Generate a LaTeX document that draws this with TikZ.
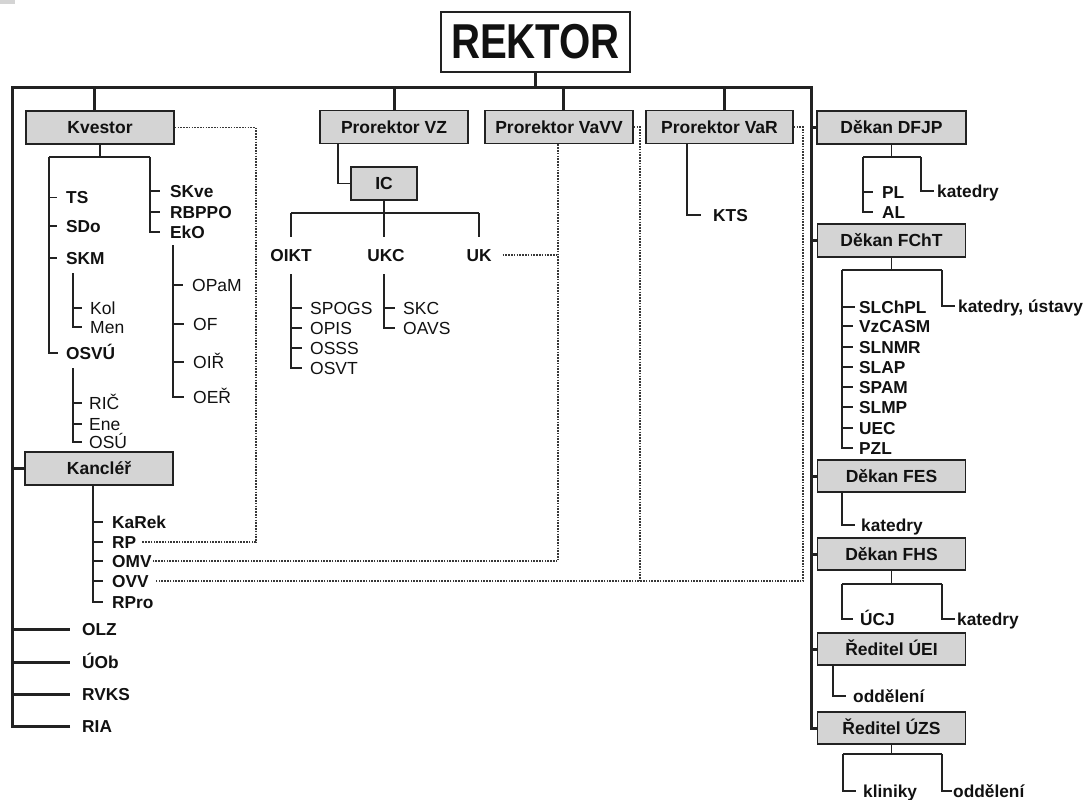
\documentclass[tikz,border=0pt]{standalone}
\usepackage{fontspec}
\setmainfont{Liberation Sans}
\usepackage{graphicx}
\definecolor{boxfill}{HTML}{D4D4D4}
\definecolor{linec}{HTML}{222222}
\definecolor{dotc}{HTML}{383838}
\definecolor{txt}{HTML}{111111}
\begin{document}
\begin{tikzpicture}[x=1pt,y=-1pt,
  every node/.style={text=txt},
  orgbox/.style={draw=linec, line width=1.7, fill=boxfill, minimum width=148, minimum height=33, inner sep=0,
    text height=12.5, text depth=0, font=\fontsize{17.5}{17.5}\selectfont\bfseries},
  lb/.style={anchor=west, inner sep=0, text height=12.4, text depth=0, font=\fontsize{17.3}{17.3}\selectfont\bfseries},
  lbc/.style={lb, anchor=center},
  lr/.style={anchor=west, inner sep=0, text height=12.5, text depth=0, font=\fontsize{17.5}{17.5}\selectfont},
  mainln/.style={draw=linec, line width=3},
  subln/.style={draw=linec, line width=1.7},
  dotln/.style={draw=dotc, line width=1.3, dash pattern=on 1.6 off 1.2},
]
\useasboundingbox (0,0) rectangle (1085,800);
\fill[boxfill] (0,0) rectangle (15,4);

% ---- REKTOR
\node[draw=linec, line width=1.5, fill=white, minimum width=189, minimum height=60, inner sep=0] (rek) at (535.5,42)
  {\fontsize{49}{49}\selectfont\bfseries\scalebox{0.82}[1]{REKTOR}};

% ---- boxes
\node[orgbox] (kv)   at (100,127.5) {Kvestor};
\node[orgbox] (kanc) at (99,468.5) {Kancléř};
\node[orgbox] (vz)   at (394,127) {Prorektor VZ};
\node[orgbox] (vavv) at (559,127) {Prorektor VaVV};
\node[orgbox, minimum width=147] (var) at (719.5,127) {Prorektor VaR};
\node[orgbox, minimum width=66] (ic) at (384,183.5) {IC};
\node[orgbox, minimum width=149] (dfjp) at (891.5,127.5) {Děkan DFJP};
\node[orgbox] (fcht) at (891.5,240.5) {Děkan FChT};
\node[orgbox, minimum height=32] (fes)  at (891.5,476) {Děkan FES};
\node[orgbox, minimum height=32] (fhs)  at (891.5,554) {Děkan FHS};
\node[orgbox, minimum height=32] (uei)  at (891.5,649) {Ředitel ÚEI};
\node[orgbox, minimum height=32] (uzs)  at (891.5,728) {Ředitel ÚZS};

% ---- Kvestor leaves
\node[lb] (ts)    at (66,197.5) {TS};
\node[lb] (sdo)   at (66,226) {SDo};
\node[lb] (skm)   at (66,258) {SKM};
\node[lb] (osvu)  at (66,353) {OSVÚ};
\node[lb] (skve)  at (170,191) {SKve};
\node[lb] (rbppo) at (170,212) {RBPPO};
\node[lb] (eko)   at (170,232) {EkO};
\node[lr] (kol)   at (90,308) {Kol};
\node[lr] (men)   at (90,327) {Men};
\node[lr] (ric)   at (89,403) {RIČ};
\node[lr] (ene)   at (89,424) {Ene};
\node[lr] (osu)   at (89,442) {OSÚ};
\node[lr] (opam)  at (192,285) {OPaM};
\node[lr] (of)    at (193,324) {OF};
\node[lr] (oir)   at (193,362) {OIŘ};
\node[lr] (oer)   at (193,397) {OEŘ};

% ---- Kancléř leaves
\node[lb] (karek) at (112,522) {KaRek};
\node[lb] (rp)    at (112,542) {RP};
\node[lb] (omv)   at (112,561) {OMV};
\node[lb] (ovv)   at (112,581) {OVV};
\node[lb] (rpro)  at (112,602) {RPro};

% ---- rector's direct units
\node[lb] (olz)  at (82,629) {OLZ};
\node[lb] (uob)  at (82,662) {ÚOb};
\node[lb] (rvks) at (82,694) {RVKS};
\node[lb] (ria)  at (82,726) {RIA};

% ---- IC
\node[lbc] (oikt) at (291,255) {OIKT};
\node[lbc] (ukc)  at (386,255) {UKC};
\node[lbc] (uk)   at (479,255) {UK};
\node[lr] (spogs) at (310,308) {SPOGS};
\node[lr] (opis)  at (310,328) {OPIS};
\node[lr] (osss)  at (310,348) {OSSS};
\node[lr] (osvt)  at (310,368) {OSVT};
\node[lr] (skc)   at (403,308) {SKC};
\node[lr] (oavs)  at (403,328) {OAVS};

% ---- VaR
\node[lb] (kts) at (713,215) {KTS};

% ---- faculties
\node[lb] (pl)   at (882,192) {PL};
\node[lb] (al)   at (882,212) {AL};
\node[lb] (katA) at (937,191) {katedry};
\node[lb] (slchpl) at (859,307) {SLChPL};
\node[lb] (vzcasm) at (859,326) {VzCASM};
\node[lb] (slnmr)  at (859,347) {SLNMR};
\node[lb] (slap)   at (859,367) {SLAP};
\node[lb] (spam)   at (859,387) {SPAM};
\node[lb] (slmp)   at (859,407) {SLMP};
\node[lb] (uec)    at (859,428) {UEC};
\node[lb] (pzl)    at (859,448) {PZL};
\node[lb] (katus)  at (958,306) {katedry, ústavy};
\node[lb] (katB) at (861,525) {katedry};
\node[lb] (ucj)  at (860,619) {ÚCJ};
\node[lb] (katC) at (957,619) {katedry};
\node[lb] (oddA) at (853,696) {oddělení};
\node[lb] (klin) at (863,791) {kliniky};
\node[lb] (oddB) at (953,791) {oddělení};

% ================= main frame
\coordinate (TL) at (12,88);
\coordinate (TR) at (811,88);
\draw[mainln] (rek.south) -- (rek.south |- TL);
\draw[mainln, line join=miter] ([xshift=-12pt]ria.west) -| (TL) -- (TR) |- (uzs.west);
\foreach \n in {olz,uob,rvks} \draw[mainln] (TL |- \n.west) -- ([xshift=-12pt]\n.west);
\draw[mainln] (TL |- kanc.west) -- (kanc.west);
\foreach \n in {dfjp,fcht,fes,fhs,uei} \draw[mainln] (TR |- \n.west) -- (\n.west);
\draw[mainln] ([xshift=-6pt]kv.north |- TL) -- ([xshift=-6pt]kv.north);
\draw[mainln] (vz.north |- TL) -- (vz.north);
\draw[mainln] ([xshift=4pt]vavv.north |- TL) -- ([xshift=4pt]vavv.north);
\draw[mainln] ([xshift=4.5pt]var.north |- TL) -- ([xshift=4.5pt]var.north);

% ================= Kvestor subtree
\coordinate (kvA) at (49,157);
\coordinate (kvB) at (150,157);
\draw[subln] (kv.south) -- (kv.south |- kvA);
\draw[subln] (kvA) -- (kvB);
\draw[subln] (kvA) |- ([xshift=-8pt]osvu.west);
\foreach \n in {ts,sdo,skm} \draw[subln] (kvA |- \n.west) -- ([xshift=-9pt]\n.west);
\draw[subln] (kvB) |- ([xshift=-10pt]eko.west);
\foreach \n in {skve,rbppo} \draw[subln] (kvB |- \n.west) -- ([xshift=-10pt]\n.west);
\coordinate (skmV) at (73,273);
\draw[subln] (skmV) |- ([xshift=-8pt]men.west);
\draw[subln] (skmV |- kol.west) -- ([xshift=-8pt]kol.west);
\coordinate (osvuV) at (73,368);
\draw[subln] (osvuV) |- ([xshift=-7pt]osu.west);
\foreach \n in {ric,ene} \draw[subln] (osvuV |- \n.west) -- ([xshift=-7pt]\n.west);
\coordinate (ekoV) at (173,245);
\draw[subln] (ekoV) |- ([xshift=-9pt]oer.west);
\foreach \n in {opam,of,oir} \draw[subln] (ekoV |- \n.west) -- ([xshift=-9pt]\n.west);

% ================= Kancléř subtree
\coordinate (kaV) at ([xshift=-6pt]kanc.south);
\draw[subln] (kaV) |- ([xshift=-9pt]rpro.west);
\foreach \n in {karek,rp,omv,ovv} \draw[subln] (kaV |- \n.west) -- ([xshift=-9pt]\n.west);

% ================= Prorektor VZ / IC
\coordinate (vzV) at (338,143);
\draw[subln] (vzV) |- (ic.west);
\coordinate (icA) at (291,213);
\coordinate (icB) at (479,213);
\draw[subln] (ic.south) -- (ic.south |- icA);
\draw[subln] (icA) -- (icB);
\draw[subln] (icA) -- ++(0,24);
\draw[subln] (ic.south |- icA) -- ++(0,24);
\draw[subln] (icB) -- ++(0,24);
\coordinate (oiktV) at (291,274);
\draw[subln] (oiktV) |- ([xshift=-8pt]osvt.west);
\foreach \n in {spogs,opis,osss} \draw[subln] (oiktV |- \n.west) -- ([xshift=-8pt]\n.west);
\coordinate (ukcV) at (384,274);
\draw[subln] (ukcV) |- ([xshift=-8pt]oavs.west);
\draw[subln] (ukcV |- skc.west) -- ([xshift=-8pt]skc.west);

% ================= Prorektor VaR
\coordinate (varV) at (687,143);
\draw[subln] (varV) |- ([xshift=-12pt]kts.west);

% ================= Děkan DFJP
\coordinate (dfA) at (863,157);
\coordinate (dfB) at (921,157);
\draw[subln] (dfjp.south) -- (dfjp.south |- dfA);
\draw[subln] (dfA) -- (dfB);
\draw[subln] (dfA) |- ([xshift=-9pt]al.west);
\draw[subln] (dfA |- pl.west) -- ([xshift=-9pt]pl.west);
\draw[subln] (dfB) |- ([xshift=-3pt]katA.west);

% ================= Děkan FChT
\coordinate (fcA) at (842,270);
\coordinate (fcB) at (942,270);
\draw[subln] (fcht.south) -- (fcht.south |- fcA);
\draw[subln] (fcA) -- (fcB);
\draw[subln] (fcA) |- ([xshift=-6pt]pzl.west);
\foreach \n in {vzcasm,slnmr,slap,spam,slmp,uec} \draw[subln] (fcA |- \n.west) -- ([xshift=-6pt]\n.west);
\draw[subln] (fcA |- slchpl.west) -- ([xshift=-4pt]slchpl.west);
\draw[subln] (fcB) |- ([xshift=-3pt]katus.west);

% ================= Děkan FES
\draw[subln] (fes.south -| fcA) |- ([xshift=-6pt]katB.west);

% ================= Děkan FHS
\coordinate (fhA) at (842,584);
\coordinate (fhB) at (942,584);
\draw[subln] (fhs.south) -- (fhs.south |- fhA);
\draw[subln] (fhA) -- (fhB);
\draw[subln] (fhA) |- ([xshift=-7pt]ucj.west);
\draw[subln] (fhB) |- ([xshift=-2pt]katC.west);

% ================= Ředitel ÚEI
\coordinate (ueV) at (833,665);
\draw[subln] (ueV) |- ([xshift=-7pt]oddA.west);

% ================= Ředitel ÚZS
\coordinate (uzA) at (843,754);
\coordinate (uzB) at (942,754);
\draw[subln] (uzs.south) -- (uzs.south |- uzA);
\draw[subln] (uzA) -- (uzB);
\draw[subln] (uzA) |- ([xshift=-7pt]klin.west);
\draw[subln] (uzB) |- ([xshift=-1pt]oddB.west);

% ================= dotted links
\coordinate (d1) at (256,0);
\coordinate (d4) at (640,0);
\coordinate (d5) at (803,0);
\draw[dotln] (kv.east) -| (d1 |- rp.east) -- ([xshift=6pt]rp.east);
\draw[dotln] ([xshift=-1pt]vavv.south) -- ([xshift=-1pt]vavv.south |- omv.east) -- ([xshift=1.5pt]omv.east);
\draw[dotln] ([xshift=11pt]uk.east) -- ([xshift=-1pt]vavv.south |- uk.east);
\draw[dotln] (vavv.east) -| (d4 |- ovv.east);
\draw[dotln] (var.east) -| (d5 |- ovv.east) -- ([xshift=6pt]ovv.east);
\end{tikzpicture}
\end{document}
